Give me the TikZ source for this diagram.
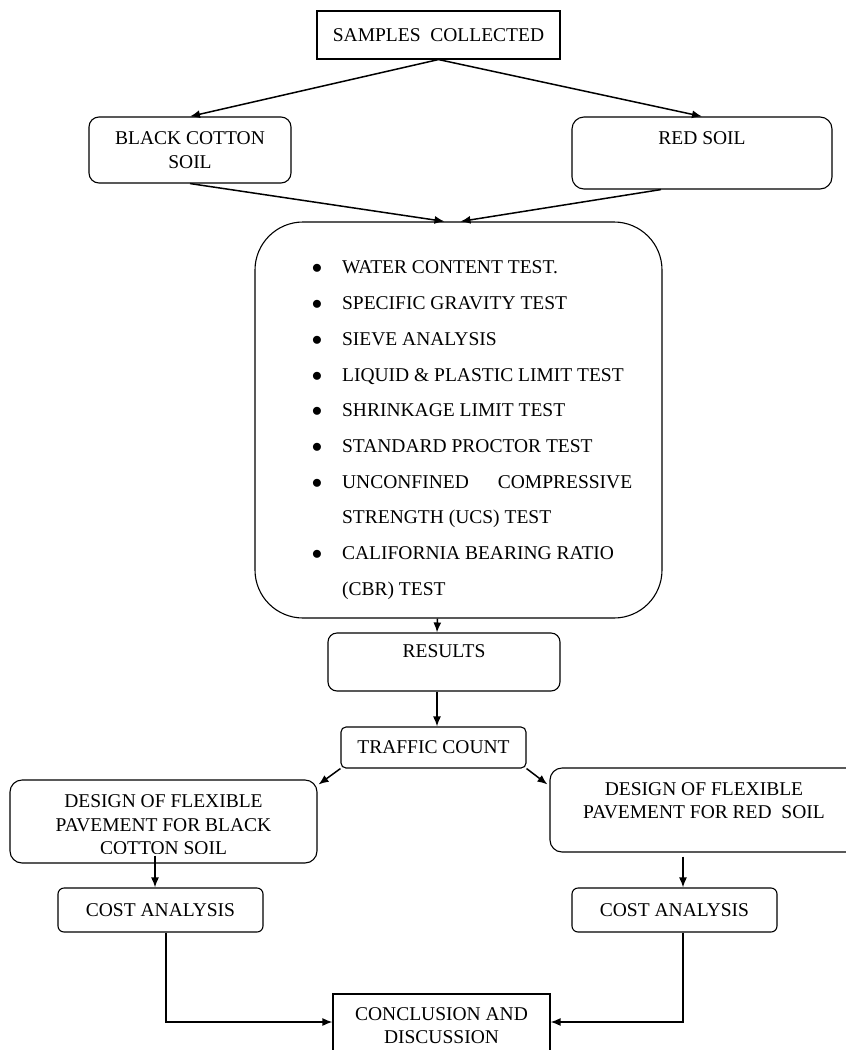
\documentclass[tikz,border=0pt]{standalone}
\usepackage{fontspec}
\setmainfont{Liberation Serif}
\usetikzlibrary{arrows.meta}

\begin{document}
\begin{tikzpicture}[x=1pt, y=-1pt,
  every node/.style={font=\fontsize{19.5}{23.5}\selectfont, inner sep=2pt},
  sqbox/.style={draw, line width=1.1pt, align=center},
  rndbox/.style={draw, line width=1.1pt, align=center, rounded corners=#1},
  rndbox/.default=10pt,
  arr/.style={line width=1.5pt, -{Latex[length=10pt,width=8pt]}}]
\clip (0,0) rectangle (846,1050);
% top
\node[sqbox, minimum width=243pt, minimum height=48pt] (samples) at (438.5,35) {SAMPLES\ \ COLLECTED};
\node[rndbox, minimum width=202pt, minimum height=66pt] (bcs) at (190,150) {BLACK COTTON\\SOIL};
\node[rndbox=12pt, minimum width=260pt, minimum height=72pt] (rs) at (702,153) {RED SOIL\\[6pt]~};
% tests
\node[rndbox=48pt, minimum width=407pt, minimum height=396pt] (tests) at (458.5,420) {%
\renewcommand{\arraystretch}{1.52}%
\begin{tabular}{@{}c@{\hspace{20pt}}l@{\hspace{-27pt}}}
\noalign{\vskip15pt}
$\bullet$ & WATER CONTENT TEST.\\
$\bullet$ & SPECIFIC GRAVITY TEST\\
$\bullet$ & SIEVE ANALYSIS\\
$\bullet$ & LIQUID \& PLASTIC LIMIT TEST\\
$\bullet$ & SHRINKAGE LIMIT TEST\\
$\bullet$ & STANDARD PROCTOR TEST\\
$\bullet$ & UNCONFINED\hspace{29pt}COMPRESSIVE\\
          & STRENGTH (UCS) TEST\\
$\bullet$ & CALIFORNIA BEARING RATIO\\
          & (CBR) TEST
\end{tabular}};
\node[rndbox=9pt, minimum width=232pt, minimum height=58pt] (results) at (444,662) {RESULTS\\[-2pt]~};
\node[rndbox=5pt, minimum width=185pt, minimum height=41pt] (traffic) at (433.5,747.5) {TRAFFIC COUNT};
% design
\node[rndbox=12pt, minimum width=307pt, minimum height=83pt] (dbc) at (163.5,821.5) {};
\begin{scope}
\clip (10,780) rectangle (317,853);
\node[align=center] (dbctext) at (163.5,825) {DESIGN OF FLEXIBLE\\PAVEMENT FOR BLACK\\COTTON SOIL};
\end{scope}
\node[rndbox=12pt, minimum width=308pt, minimum height=84pt] (drs) at (704,810) {DESIGN OF FLEXIBLE\\PAVEMENT FOR RED\ \ SOIL\\[-5pt]~};
% cost
\node[rndbox=6pt, minimum width=205pt, minimum height=44pt] (costl) at (160.5,910) {COST ANALYSIS};
\node[rndbox=6pt, minimum width=205pt, minimum height=44pt] (costr) at (674.5,910) {COST ANALYSIS};
\node[sqbox, minimum width=217pt, minimum height=63pt] (concl) at (441.5,1025.5) {CONCLUSION AND\\DISCUSSION};
% arrows
\draw[arr] (samples.south) -- (bcs.north);
\draw[arr] (samples.south) -- (rs.north);
\draw[arr] (bcs.south) -- ([xshift=-14pt]tests.north);
\draw[arr] ([xshift=-41pt]rs.south) -- ([xshift=2pt]tests.north);
\draw[arr] ([xshift=-21pt]tests.south) -- ([xshift=-7pt]results.north);
\draw[arr] ([xshift=-7pt]results.south) -- ([xshift=3.5pt]traffic.north);
\draw[arr] (traffic.south west) -- ([xshift=1pt,yshift=-5pt]dbc.north east);
\draw[arr] (traffic.south east) -- ([xshift=-2pt,yshift=-17pt]drs.north west);
\draw[arr] ([xshift=-8.5pt,yshift=8pt]dbc.south) -- ([xshift=-5.5pt]costl.north);
\draw[arr] ([xshift=-21pt,yshift=-4pt]drs.south) -- ([xshift=8.5pt]costr.north);
\draw[arr] ([xshift=5.5pt]costl.south) |- ([yshift=3.5pt]concl.west);
\draw[arr] ([xshift=8.5pt]costr.south) |- ([yshift=3.5pt]concl.east);
\end{tikzpicture}
\end{document}
